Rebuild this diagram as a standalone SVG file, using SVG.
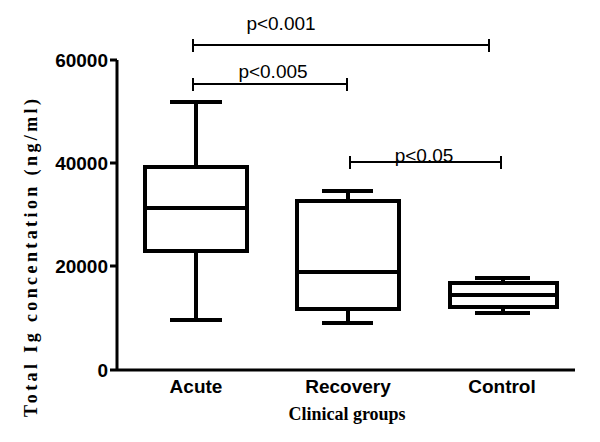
<svg xmlns="http://www.w3.org/2000/svg" width="600" height="442" viewBox="0 0 600 442">
<style>
.ax{stroke:#000;stroke-width:3;fill:none}
.bx{stroke:#000;stroke-width:4;fill:none}
.br{stroke:#000;stroke-width:2;fill:none}
.tl{font-family:"Liberation Sans",Arial,sans-serif;font-weight:bold;font-size:19px}
.pl{font-family:"Liberation Sans",Arial,sans-serif;font-size:19px}
.ti{font-family:"Liberation Serif","Times New Roman",serif;font-weight:bold;font-size:18px}
</style>
<rect width="600" height="442" fill="#fff"/>
<g id="axes">
<path class="ax" d="M117 60V370H575M110 60H117M110 163H117M110 266H117M110 370H117"/>
<g class="tl" text-anchor="end">
<text x="108" y="67">60000</text><text x="108" y="170">40000</text><text x="108" y="273">20000</text><text x="108" y="377">0</text>
</g>
<g class="tl" text-anchor="middle" font-size="18">
<text x="196" y="393">Acute</text><text x="348" y="393">Recovery</text><text x="502" y="393">Control</text>
</g>
<text class="ti" x="347" y="420" text-anchor="middle">Clinical groups</text>
<text class="ti" x="37" y="258" text-anchor="middle" transform="rotate(-90 37 258)" font-size="24" textLength="318" lengthAdjust="spacing">Total Ig concentation (ng/ml)</text>
</g>
<g id="acute">
<rect class="bx" x="145" y="167" width="102" height="84"/>
<path class="bx" d="M145 208H247M196 167V102M170 102H222M196 251V320M170 320H222"/>
</g>
<g id="recovery">
<rect class="bx" x="297" y="201" width="102" height="108"/>
<path class="bx" d="M297 272H399M348 201V191M322 191H373M348 309V323M322 323H373"/>
</g>
<g id="control">
<rect class="bx" x="450" y="283" width="107" height="24"/>
<path class="bx" d="M450 295H557M503 283V278M475 278H530M503 307V313M475 313H530"/>
</g>
<g id="connectors">
<path class="br" d="M193 45H489M193 39V52M489 39V52"/>
<path class="br" d="M193 84H347M193 78V91M347 78V91"/>
<path class="br" d="M350 162H501M350 156V169M501 156V169"/>
</g>
<g class="pl" text-anchor="middle">
<text x="281" y="30">p&lt;0.001</text>
<text x="273" y="78">p&lt;0.005</text>
<text x="424" y="162">p&lt;0.05</text>
</g>
</svg>
